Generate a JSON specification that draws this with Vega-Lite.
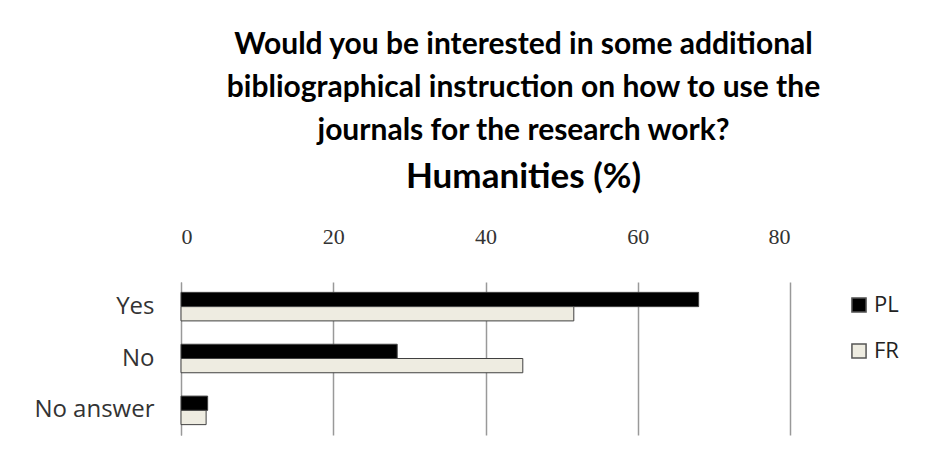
{
  "$schema": "https://vega.github.io/schema/vega-lite/v6.json",
  "width": 609,
  "height": 153,
  "padding": {"left": 33, "top": 30, "right": 10, "bottom": 27},
  "background": "white",
  "title": {
    "text": ["Would you be interested in some additional", "bibliographical instruction on how to use the", "journals for the research work?"],
    "subtitle": "Humanities (%)",
    "font": "Lato",
    "fontSize": 30,
    "fontWeight": "bold",
    "lineHeight": 43,
    "subtitleFont": "Lato",
    "subtitleFontSize": 35,
    "subtitleFontWeight": "bold",
    "subtitleColor": "#000",
    "subtitlePadding": 14,
    "color": "#000",
    "anchor": "middle",
    "frame": "group",
    "dx": 38,
    "offset": 30
  },
  "data": {
    "values": [
      {"answer": "Yes", "country": "PL", "pct": 68},
      {"answer": "Yes", "country": "FR", "pct": 51.6},
      {"answer": "No", "country": "PL", "pct": 28.4},
      {"answer": "No", "country": "FR", "pct": 44.9},
      {"answer": "No answer", "country": "PL", "pct": 3.5},
      {"answer": "No answer", "country": "FR", "pct": 3.3}
    ]
  },
  "mark": {"type": "bar", "stroke": "#404040", "strokeWidth": 1},
  "encoding": {
    "y": {
      "field": "answer", "type": "nominal", "sort": ["Yes", "No", "No answer"],
      "scale": {"paddingInner": 0.45, "paddingOuter": 0.2},
      "axis": {"title": null, "ticks": false, "domain": true, "domainColor": "#999", "labelFont": "Open Sans", "labelFontSize": 24, "labelColor": "#333", "labelPadding": 27, "grid": false}
    },
    "yOffset": {"field": "country", "type": "nominal", "sort": ["PL", "FR"]},
    "x": {
      "field": "pct", "type": "quantitative",
      "scale": {"domain": [0, 80]},
      "axis": {"orient": "top", "title": null, "values": [0, 20, 40, 60, 80], "ticks": false, "domain": false, "grid": true, "gridColor": "#999", "gridWidth": 1.5, "labelFont": "Liberation Serif", "labelFontSize": 22, "labelColor": "#333", "labelPadding": 34}
    },
    "color": {
      "field": "country", "type": "nominal", "sort": ["PL", "FR"],
      "scale": {"domain": ["PL", "FR"], "range": ["#000000", "#EEECE1"]},
      "legend": {"title": null, "symbolType": "square", "symbolSize": 200, "symbolStrokeColor": "#555", "symbolStrokeWidth": 1.5, "labelFont": "Open Sans", "labelFontSize": 22, "labelColor": "#222", "rowPadding": 24, "offset": 46, "padding": 12}
    }
  },
  "config": {"view": {"stroke": null}}
}
